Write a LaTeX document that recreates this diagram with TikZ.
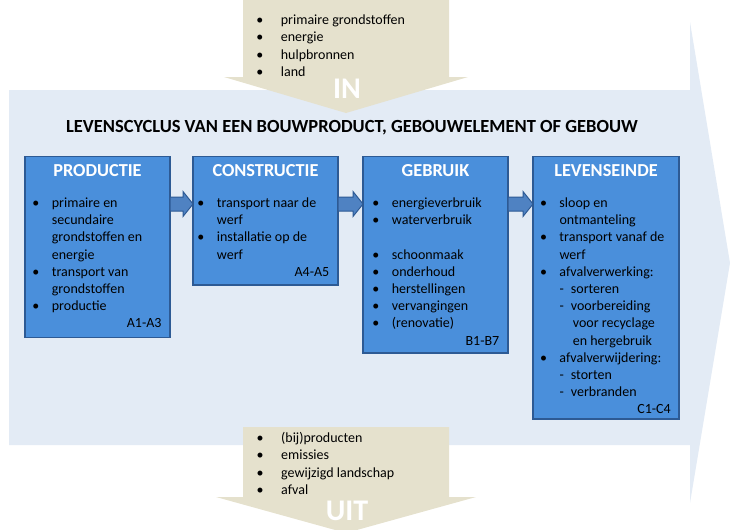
\documentclass[tikz,border=0pt]{standalone}
\usepackage{fontspec}
\setmainfont{Carlito}
\usetikzlibrary{calc}
\definecolor{bgblue}{HTML}{E3EBF5}
\definecolor{beige}{HTML}{E5E1CD}
\definecolor{boxblue}{HTML}{4A8FDB}
\definecolor{boxedge}{HTML}{2D5A94}
\definecolor{arrblue}{HTML}{4F82C2}
\newcommand\bu{\llap{\makebox[32pt][c]{•}}}
\newcommand\bux{\llap{\makebox[42pt][c]{•}}}
\newcommand\dsh{\makebox[11.4pt][l]{-}}
\newcommand\hng{\hspace*{13.4pt}}
\newcommand\flowarr[2]{%
  \path (#1.north east) ++(0,47.5) coordinate (fs-#1);
  \path (#2.north west) ++(0,47.5) coordinate (ft-#1);
  \draw[flowarrow] ($(fs-#1)+(0,-7)$) -- ($(ft-#1)+(-10,-7)$) -- ($(ft-#1)+(-10,-12.5)$)
    -- (ft-#1) -- ($(ft-#1)+(-10,12.5)$) -- ($(ft-#1)+(-10,7)$) -- ($(fs-#1)+(0,7)$) -- cycle;}
\begin{document}
\begin{tikzpicture}[x=1pt,y=-1pt,
  stagebox/.style={draw=boxedge,line width=1.6pt,fill=boxblue,inner sep=0pt,outer sep=0pt},
  stagehead/.style={anchor=base,text=white,font=\fontsize{18.3}{20}\selectfont\bfseries,inner sep=0pt},
  stagelist/.style={anchor=north west,align=left,inner sep=0pt,font=\fontsize{14}{17.2}\selectfont},
  stagecode/.style={anchor=base east,inner sep=0pt,font=\fontsize{14}{17}\selectfont},
  flowarrow/.style={draw=boxedge,line width=1pt,fill=arrblue},
  bigword/.style={anchor=base,text=white,font=\fontsize{30}{32}\selectfont\bfseries,inner sep=0pt},
  iolist/.style={anchor=north west,align=left,inner sep=0pt,font=\fontsize{14}{17.2}\selectfont}]
\useasboundingbox (0,0) rectangle (748,530);
\begin{scope}
\clip (0,0) rectangle (748,530);
% big background arrow
\fill[bgblue] (9,90) -- (690,90) -- (690,22) -- (730,263) -- (690,503) -- (690,445) -- (9,445) -- cycle;
% IN arrow
\fill[beige] (243,0) -- (449,0) -- (449,77) -- (468,77) -- (346,113) -- (224,77) -- (243,77) -- cycle;
% UIT arrow
\fill[beige] (243,427) -- (449,427) -- (449,497) -- (476,497) -- (346,533) -- (216,497) -- (243,497) -- cycle;
\end{scope}
\node[bigword] (inw) at (347,98) {IN};
\node[bigword] (uitw) at (347,520) {UIT};
\node[iolist] (inl) at (280.7,12.4) {\strut\bux primaire grondstoffen\\ \bux energie\\ \bux hulpbronnen\\ \bux land};
\node[iolist] (uitl) at (281,430.5) {\strut\bux (bij)producten\\ \bux emissies\\ \bux gewijzigd landschap\\ \bux afval};
% title
\node[anchor=base,inner sep=0pt,font=\fontsize{18.5}{20}\selectfont\bfseries] (title) at (352,132)
  {LEVENSCYCLUS VAN EEN BOUWPRODUCT, GEBOUWELEMENT OF GEBOUW};
% stage boxes
\node[stagebox,minimum width=145,minimum height=181] (prod) at (97.5,247) {};
\node[stagebox,minimum width=145,minimum height=128.5] (cons) at (265.5,220.75) {};
\node[stagebox,minimum width=145,minimum height=196.5] (gebr) at (435.5,254.75) {};
\node[stagebox,minimum width=146,minimum height=262.5] (lev) at (606,287.75) {};
% headings
\node[stagehead] (prodh) at (97.5,176.7) {PRODUCTIE};
\node[stagehead] (consh) at (265.5,176.7) {CONSTRUCTIE};
\node[stagehead] (gebrh) at (435.5,176.7) {GEBRUIK};
\node[stagehead] (levh) at (606,176.7) {LEVENSEINDE};
% lists
\node[stagelist] (prodl) at (51.7,195.3) {\strut\bu primaire en\\ secundaire\\ grondstoffen en\\ energie\\ \bu transport van\\ grondstoffen\\ \bu productie};
\node[stagelist] (consl) at (216.7,195.3) {\strut\bu transport naar de\\ werf\\ \bu installatie op de\\ werf};
\node[stagelist] (gebrl) at (391.7,195.3) {\strut\bu energieverbruik\\ \bu waterverbruik\\ \mbox{}\\ \bu schoonmaak\\ \bu onderhoud\\ \bu herstellingen\\ \bu vervangingen\\ \bu (renovatie)};
\node[stagelist] (levl) at (559.3,195.3) {\strut\bu sloop en\\ ontmanteling\\ \bu transport vanaf de\\ werf\\ \bu afvalverwerking:\\ \dsh sorteren\\ \dsh voorbereiding\\ \hng voor recyclage\\ \hng en hergebruik\\ \bu afvalverwijdering:\\ \dsh storten\\ \dsh verbranden};
% codes
\node[stagecode] (prodc) at (161.7,327) {A1-A3};
\node[stagecode] (consc) at (329.5,276) {A4-A5};
\node[stagecode] (gebrc) at (499.5,345) {B1-B7};
\node[stagecode] (levc) at (671,413) {C1-C4};
% flow arrows
\flowarr{prod}{cons}
\flowarr{cons}{gebr}
\flowarr{gebr}{lev}
\end{tikzpicture}
\end{document}
